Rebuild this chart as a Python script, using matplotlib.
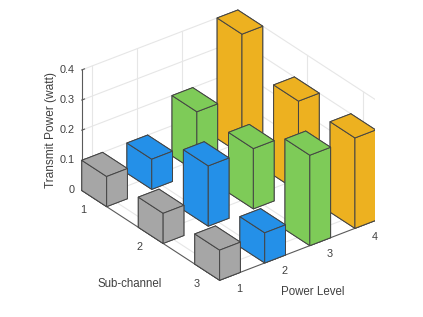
import matplotlib
matplotlib.use('Agg')
import matplotlib.pyplot as plt
from mpl_toolkits.mplot3d import proj3d

plt.rcParams['font.family'] = ['Liberation Sans', 'DejaVu Sans']

# rows = sub-channel, columns = power level
sub_channels = [1, 2, 3]
power_levels = [1, 2, 3, 4]
z_ticks = [0, 0.1, 0.2, 0.3, 0.4]
z_tick_labels = ['0', '0.1', '0.2', '0.3', '0.4']
power_sub1 = [0.1, 0.1, 0.2, 0.4]
power_sub2 = [0.1, 0.2, 0.2, 0.3]
power_sub3 = [0.1, 0.1, 0.3, 0.3]
level_colors = ['#a6a6a6', '#2490e8', '#7ecb58', '#edb120']

heights = [power_sub1, power_sub2, power_sub3]

W, H = 423, 317
bar_w_s = 0.44
bar_w_p = 0.46
s_min, s_max = 1 - bar_w_s / 2, 3 + bar_w_s / 2
p_min, p_max = 1 - bar_w_p / 2, 4 + bar_w_p / 2
z_top = 0.4

grid_c = '#e6e6e6'
axis_c = '#5a5a5a'
text_c = '#404040'
edge_c = '#444444'

fig = plt.figure(figsize=(W / 100, H / 100), dpi=100)
side = 300
ax = fig.add_axes([74.7 / W, 17.8 / H, side / W, side / H], projection='3d',
                  computed_zorder=False)
ax.set_proj_type('ortho')
ax.view_init(elev=30, azim=-37.5)
ax.set_box_aspect((224.4, 195, 138), zoom=1.07)
ax.set_axis_off()

# walls and floor grid
def grid(xs, ys, zs):
    ax.plot(xs, ys, zs, color=grid_c, lw=0.8, zorder=1)

for z in z_ticks:
    grid([s_min, s_min], [p_min, p_max], [z, z])
    grid([s_min, s_max], [p_max, p_max], [z, z])
for p in power_levels:
    grid([s_min, s_min], [p, p], [0, z_top])
    grid([s_min, s_max], [p, p], [0, 0])
for s in sub_channels:
    grid([s, s], [p_max, p_max], [0, z_top])
    grid([s, s], [p_min, p_max], [0, 0])

# axis lines and ticks
def axis_line(xs, ys, zs):
    ax.plot(xs, ys, zs, color=axis_c, lw=0.8, zorder=2)

axis_line([s_min, s_min], [p_min, p_min], [0, z_top])
axis_line([s_min, s_max], [p_min, p_min], [0, 0])
axis_line([s_max, s_max], [p_min, p_max], [0, 0])
for z in z_ticks:
    axis_line([s_min, s_min], [p_min, p_min + 0.06], [z, z])
for s in sub_channels:
    axis_line([s, s], [p_min, p_min + 0.06], [0, 0])
for p in power_levels:
    axis_line([s_max, s_max - 0.05], [p, p], [0, 0])

# bars, far ones first
order = 10
for i, s in enumerate(sub_channels):
    for j in range(len(power_levels) - 1, -1, -1):
        p = power_levels[j]
        ax.bar3d(s - bar_w_s / 2, p - bar_w_p / 2, 0, bar_w_s, bar_w_p, heights[i][j],
                 color=level_colors[j], edgecolor=edge_c, linewidth=0.7,
                 shade=False, zorder=order)
        order += 1

ax.set_xlim(s_min, s_max)
ax.set_ylim(p_min, p_max)
ax.set_zlim(0, z_top)

# tick labels as 2D text at projected positions
proj = ax.get_proj()
def label3d(x, y, z, txt, ha='center'):
    xp, yp, _ = proj3d.proj_transform(x, y, z, proj)
    ax.text2D(xp, yp, txt, transform=ax.transData, ha=ha, va='center',
              fontsize=7.8, color=text_c)

for z, lab in zip(z_ticks, z_tick_labels):
    label3d(s_min - 0.05, p_min - 0.1, z, lab, ha='right')
for s in sub_channels:
    label3d(s, p_min - 0.24, -0.025, str(s))
for p in power_levels:
    label3d(s_max + 0.17, p, -0.02, str(p))

fig.text(51 / W, 1 - 130 / H, 'Transmit Power (watt)', rotation=90, ha='center', va='center',
         fontsize=8.6, color=text_c)
fig.text(130 / W, 1 - 284 / H, 'Sub-channel', ha='center', va='center', fontsize=8.3, color=text_c)
fig.text(313 / W, 1 - 292 / H, 'Power Level', ha='center', va='center', fontsize=8.3, color=text_c)

fig.savefig('out.png', dpi=100)
